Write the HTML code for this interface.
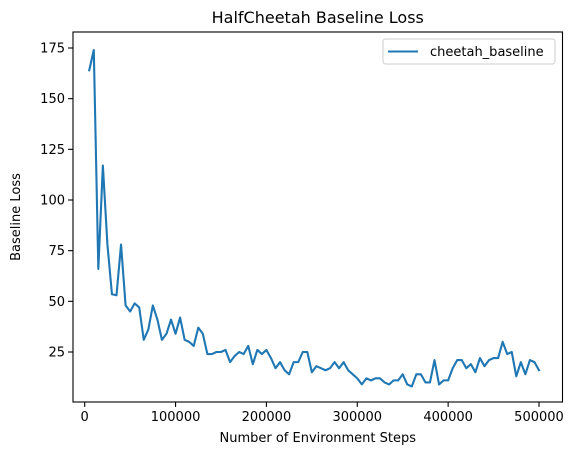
<!DOCTYPE html>
<html><head><meta charset="utf-8"><style>
body{margin:0;background:#fff;}
svg{display:block;font-family:"DejaVu Sans","Liberation Sans",sans-serif;}
</style></head><body>
<svg width="575" height="455" viewBox="0 0 575 455">
<g id="plot"></g>
</svg>
<script>
const steps = [];
for (let i = 1; i <= 100; i++) steps.push(i * 5000);
const losses = [164,174,66,117,78,53.5,53,78,48,45,49,47,31,36,48,41,31,34,41,34,42,31,30,28,37,34,24,24,25,25,26,20,23,25,24,28,19,26,24,26,22,17,20,16,14,20,20,25,25,15,18,17,16,17,20,17,20,16,14,12,9,12,11,12,12,10,9,11,11,14,9,8,14,14,10,10,21,9,11,11,17,21,21,17,19,15,22,18,21,22,22,30,24,25,13,20,14,21,20,16];
const xTicks = [0,100000,200000,300000,400000,500000];
const yTicks = [25,50,75,100,125,150,175];

const NS = "http://www.w3.org/2000/svg";
const L = 73, R = 562.5, T = 32, B = 402;
const xs = v => 84.7 + v * (539 - 84.7) / 500000;
const ys = v => 352 - (v - 25) * (304 / 150);
const g = document.getElementById('plot');
function mk(tag, attrs, parent) {
  const e = document.createElementNS(NS, tag);
  for (const k in attrs) e.setAttribute(k, attrs[k]);
  (parent || g).appendChild(e);
  return e;
}
const pts = steps.map((s, i) => xs(s).toFixed(2) + ',' + ys(losses[i]).toFixed(2)).join(' ');
const line = mk('polyline', {points: pts, fill: 'none', stroke: '#1f77b4', 'stroke-width': 2.1, 'stroke-linejoin': 'round', 'stroke-linecap': 'square'});


const frame = mk('rect', {x: L, y: T, width: R - L, height: B - T, fill: 'none', stroke: '#000', 'stroke-width': 1.1});


xTicks.forEach(v => {
  const x = xs(v);
  mk('line', {x1: x, x2: x, y1: B, y2: B + 4.9, stroke: '#000', 'stroke-width': 1.1});
  const t = mk('text', {x: x, y: B + 19, 'text-anchor': 'middle', 'font-size': 13});
  t.textContent = String(v);
  
  
});
yTicks.forEach(v => {
  const y = ys(v);
  mk('line', {x1: L - 4.9, x2: L, y1: y, y2: y, stroke: '#000', 'stroke-width': 1.1});
  const t = mk('text', {x: L - 8, y: y + 4.5, 'text-anchor': 'end', 'font-size': 13});
  t.textContent = String(v);
  
  
});
const title = mk('text', {x: (L + R) / 2, y: 23, 'text-anchor': 'middle', 'font-size': 16});
title.textContent = 'HalfCheetah Baseline Loss';


const xt = mk('text', {x: (L + R) / 2, y: 442, 'text-anchor': 'middle', 'font-size': 13});
xt.textContent = 'Number of Environment Steps';


const yt = mk('text', {x: 0, y: 0, 'text-anchor': 'middle', 'font-size': 13, transform: 'translate(20,' + ((T + B) / 2) + ') rotate(-90)'});
yt.textContent = 'Baseline Loss';


const lg = mk('g', {});


mk('rect', {x: 383, y: 39, width: 172, height: 25, rx: 2.5, fill: '#fff', stroke: '#ccc', 'stroke-width': 1}, lg);
mk('line', {x1: 388, x2: 418, y1: 51.5, y2: 51.5, stroke: '#1f77b4', 'stroke-width': 2.1}, lg);
const lt = mk('text', {x: 430, y: 56, 'font-size': 13}, lg);
lt.textContent = 'cheetah_baseline';


</script>
</body></html>
